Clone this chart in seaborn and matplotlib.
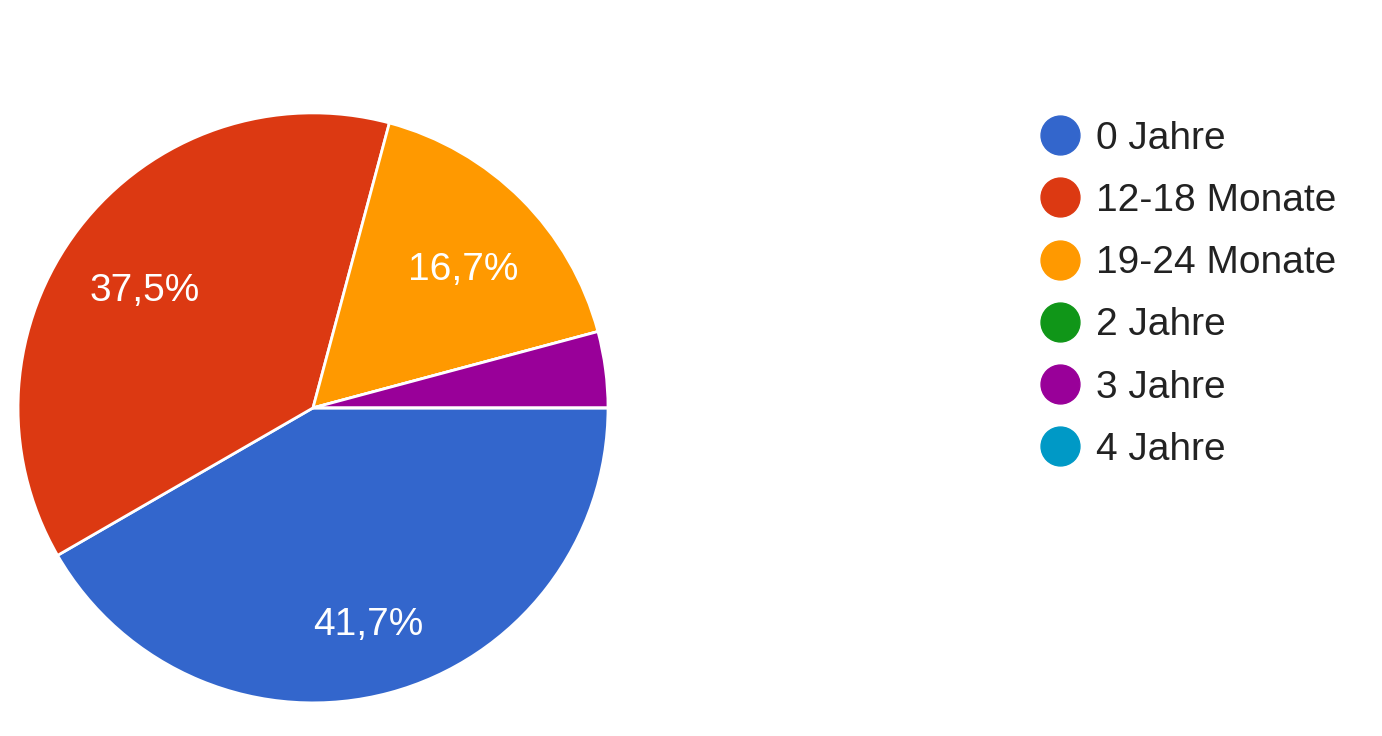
import matplotlib
matplotlib.use("Agg")
import matplotlib.pyplot as plt
import matplotlib.transforms as mtransforms
from matplotlib.lines import Line2D
import seaborn as sns

# Daten (Google-Forms-Auswertung, 24 Antworten)
KATEGORIEN = ["0 Jahre", "12-18 Monate", "19-24 Monate", "2 Jahre", "3 Jahre", "4 Jahre"]
ANZAHL = [10, 9, 4, 0, 1, 0]
FARBEN = ["#3366cc", "#dc3912", "#ff9900", "#109618", "#990099", "#0099c6"]

sns.set_theme(style="white")
plt.rcParams["font.family"] = ["Liberation Sans", "DejaVu Sans"]

fig = plt.figure(figsize=(13.82, 7.36), dpi=100)
ax = fig.add_axes([0.013, 0.045, 0.427, 0.8016])


def fmt_pct(p):
    # kleine Anteile ohne Beschriftung, Dezimalkomma wie im Original
    if p < 5:
        return ""
    return f"{p:.1f}%".replace(".", ",")


wedges, texts, autotexts = ax.pie(
    ANZAHL,
    colors=FARBEN,
    startangle=0,
    counterclock=False,
    autopct=fmt_pct,
    pctdistance=0.72,
    radius=1.0,
    wedgeprops=dict(edgecolor="white", linewidth=2),
    textprops=dict(color="white", fontsize=28),
)
# Beschriftungen etwas tiefer setzen (wie bei Google Charts)
for t in autotexts:
    t.set_transform(mtransforms.offset_copy(t.get_transform(), fig=fig, x=0, y=-12, units="dots"))

ax.set_xlim(-1.0, 1.0)
ax.set_ylim(-1.0, 1.0)
ax.set_aspect("equal")

handles = [
    Line2D([0], [0], marker="o", linestyle="", markersize=28,
           markerfacecolor=c, markeredgecolor=c)
    for c in FARBEN
]
fig.legend(
    handles, KATEGORIEN,
    loc="upper left",
    bbox_to_anchor=(0.753, 0.836),
    frameon=False,
    fontsize=28,
    labelcolor="#222222",
    handletextpad=0.42,
    labelspacing=0.675,
    handlelength=1.0,
    borderaxespad=0,
    borderpad=0,
)

plt.savefig("out.png", dpi=100)
